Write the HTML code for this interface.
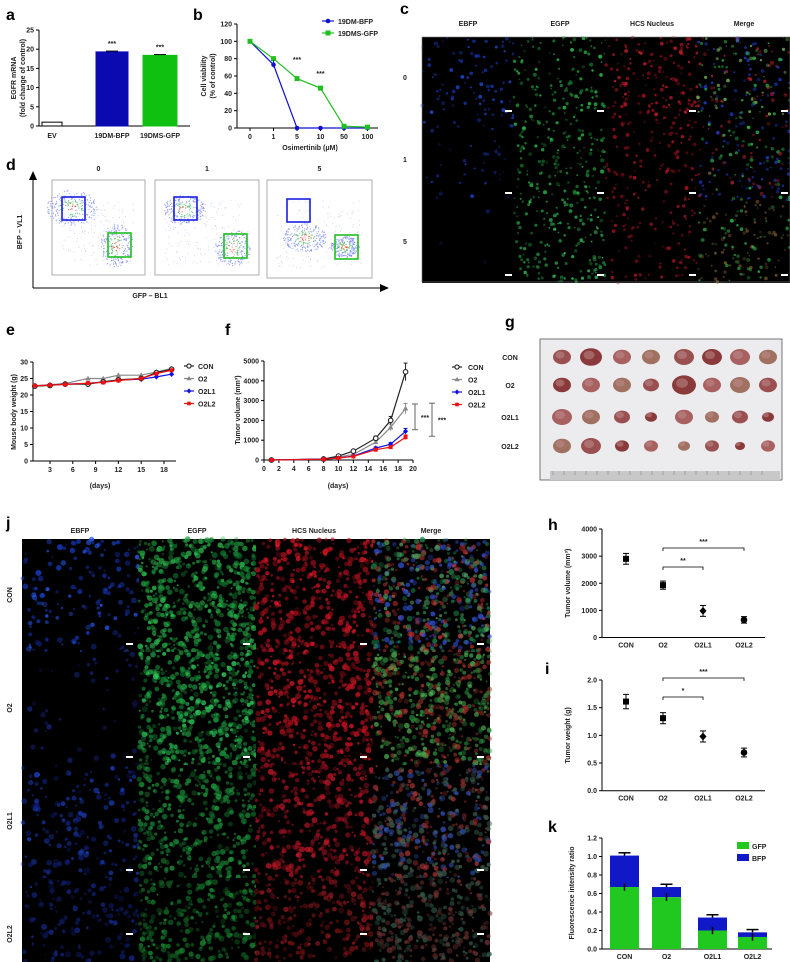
<!DOCTYPE html>
<html><head><meta charset="utf-8"><style>
body{margin:0;background:#fff}
svg{display:block;font-family:"Liberation Sans",Arial,sans-serif}
.t{font-size:7px;font-weight:bold;fill:#222}
.L{font-size:16px;font-weight:bold}
</style></head><body>
<svg id="s" width="790" height="962" viewBox="0 0 790 962" xmlns="http://www.w3.org/2000/svg">
<g id="root"></g>
</svg>
<script>
// ---------- data ----------
const aCats=["EV","19DM-BFP","19DMS-GFP"];
const aVals=[1,19.3,18.4];
const bX=["0","1","5","10","50","100"];
const bBFP=[100,73,0,0,0,0];
const bGFP=[100,80,57,46,2,1];
const eDays=[1,3,5,8,10,12,15,17,19];
const eCON=[22.7,22.9,23.3,23.3,24,24.6,25,26.8,27.8];
const eO2=[22.8,23.1,23.5,25,25,26,26,27,28];
const eL1=[22.7,23,23.3,23.5,24,24.5,24.8,25.5,26.3];
const eL2=[22.8,23,23.2,23.6,23.8,24.4,25,26.5,27.5];
const fDays=[1,8,10,12,15,17,19];
const fCON=[0,50,200,450,1100,2000,4450];
const fO2=[0,40,150,280,900,1650,2600];
const fL1=[0,40,100,200,600,800,1450];
const fL2=[0,40,100,180,520,650,1150];
const grpCats=["CON","O2","O2L1","O2L2"];
const hVals=[2900,1930,980,650];
const hErr=[200,150,200,120];
const iVals=[1.61,1.31,0.98,0.69];
const iErr=[0.13,0.1,0.1,0.08];
const kGFP=[0.67,0.56,0.2,0.13];
const kTot=[1.01,0.67,0.34,0.18];

const NS="http://www.w3.org/2000/svg";
const root=document.getElementById('root');
function el(tag,at,parent){const e=document.createElementNS(NS,tag);for(const k in at)e.setAttribute(k,at[k]);(parent||root).appendChild(e);return e;}
function txt(x,y,s,cls,extra){const e=el('text',Object.assign({x:x,y:y,class:cls||'t','text-anchor':'middle'},extra||{}));e.textContent=s;return e;}
function line(x1,y1,x2,y2,c,w){return el('line',{x1,y1,x2,y2,stroke:c||'#000','stroke-width':w||1});}
function lin(d0,d1,r0,r1){return v=>r0+(v-d0)*(r1-r0)/(d1-d0);}
function marker(kind,x,y,c,s){s=s||2;
 if(kind=='CON')return el('circle',{cx:x,cy:y,r:s+0.3,fill:'#fff',stroke:c,'stroke-width':1.1});
 if(kind=='O2')return el('polygon',{points:`${x},${y-s-0.8} ${x+s+0.8},${y+s} ${x-s-0.8},${y+s}`,fill:c});
 if(kind=='O2L1')return el('polygon',{points:`${x},${y-s-0.8} ${x+s+0.5},${y} ${x},${y+s+0.8} ${x-s-0.5},${y}`,fill:c});
 return el('rect',{x:x-s,y:y-s,width:2*s,height:2*s,fill:c});}

[["a",6,20],["b",193,20],["c",400,14],["d",6,170],["e",6,335],["f",225,335],["g",505,327],["j",6,528],["h",548,530],["i",545,674],["k",548,832]].forEach(p=>{
 const t=txt(p[1],p[2],p[0],'L',{'text-anchor':'start'});
 
 
});

// ---------- microscopy textures ----------
let seed=7;function rnd(){seed=(seed*16807)%2147483647;return seed/2147483647;}
function micro(x,y,w,h,colors,n,rmin,rmax,name,op){
 const g=el('g',{});
 
 
 el('rect',{x,y,width:w,height:h,fill:'#000'},g);
 for(let i=0;i<n;i++){
  const c=colors[Math.floor(rnd()*colors.length)];
  el('circle',{cx:(x+rnd()*w).toFixed(1),cy:(y+rnd()*h).toFixed(1),r:(rmin+rnd()*(rmax-rmin)).toFixed(1),fill:c,opacity:((op||0.35)+rnd()*0.5).toFixed(2)},g);
 }
 return g;
}
function scale(x,y){el('rect',{x:x,y:y,width:7,height:2,fill:'#fff'});}

["EBFP","EGFP","HCS Nucleus","Merge"].forEach((h,i)=>{const t=txt(468+i*92,26,h);});
const cRows=["0","1","5"];
const cSpec=[
 [[["#1a3cc8","#2050e0"],90],[["#1a9a3a","#30d050"],120],[["#b01020","#d02030"],150],[["#30d050","#2040d0","#c02030","#80c060"],170]],
 [[["#1a30a0","#2040d0"],40],[["#188a30","#30c050"],150],[["#a01020","#c01828"],110],[["#30c050","#2040d0","#a02030"],150]],
 [[["#102080"],3],[["#20a040","#40e070"],140],[["#901020","#b01828"],80],[["#30c050","#806030"],130]]];
cRows.forEach((r,ri)=>{
 const t=txt(405,80+ri*82,r);
 for(let ci=0;ci<4;ci++){const sp=cSpec[ri][ci];micro(422+ci*92,37+ri*82,92,82,sp[0],sp[1],0.8,2,'c-image-'+r+'-'+ci,0.3);scale(505+ci*92,110+ri*82);}
});
el('rect',{x:422,y:37,width:368,height:245,fill:'none',stroke:'#777','stroke-width':0.6});

["EBFP","EGFP","HCS Nucleus","Merge"].forEach((h,i)=>{const t=txt(80+i*117,533,h);});
const jSpec=[
 [[["#1840d0","#2a60ff","#102a90"],150],[["#20a040","#30c050","#108030"],550],[["#c01020","#e01828","#901018"],400],[["#1a8a4a","#c03030","#3050d0","#50a060"],550]],
 [[["#101860","#1a2a90"],40],[["#20a040","#30d060","#108030"],550],[["#c01020","#e01828","#901018"],400],[["#2a8a3a","#a03028","#50b050"],550]],
 [[["#102080","#1a40c0"],170],[["#157a30","#20a040"],380],[["#a01020","#c01828"],350],[["#406050","#a03030","#3050b0"],450]],
 [[["#0c1860","#142a90"],130],[["#105a20","#188a30"],280],[["#701010","#901820"],250],[["#305848","#703030"],320]]];
grpCats.forEach((r,ri)=>{
 const y=539+ri*113;
 const t=txt(12,y+56,r,'t',{transform:`rotate(-90 12 ${y+56})`});
 for(let ci=0;ci<4;ci++){const sp=jSpec[ri][ci];micro(22+ci*117,y,117,ri==3?(962-y):113,sp[0],sp[1],1,3,'j-image-'+r+'-'+ci,0.3);if(ri<3)scale(126+ci*117,y+104);else scale(126+ci*117,y+55);}
});

// ---------- panel a ----------
(function(){
 const y=lin(0,25,126,30);const x0=39;
 line(x0,30,x0,126);line(x0,126,190,126);
 [0,5,10,15,20,25].forEach(v=>{line(x0-3,y(v),x0,y(v));txt(x0-5,y(v)+2.5,String(v),'t',{'text-anchor':'end'});});
 const bx=[42,96,143],bw=[20,32,34],col=["#fff","#0a0ab0","#10c010"];
 aCats.forEach((c,i)=>{
  const r=el('rect',{x:bx[i],y:y(aVals[i]),width:bw[i],height:126-y(aVals[i]),fill:col[i],stroke:i?col[i]:'#000','stroke-width':1});
  
  txt(bx[i]+bw[i]/2,138,c);
  if(i){line(bx[i]+bw[i]/2-6,y(aVals[i]+0.2),bx[i]+bw[i]/2+6,y(aVals[i]+0.2));txt(bx[i]+bw[i]/2,y(aVals[i])-6,"***");}
 });
 const t=txt(16,78,"EGFR mRNA",'t',{transform:'rotate(-90 16 78)','font-size':'8'});
 txt(25,78,"(fold change of control)",'t',{transform:'rotate(-90 25 78)','font-size':'8'});
 
})();

// ---------- panel b ----------
(function(){
 const y=lin(0,120,128,24);const xi=i=>250+i*23.5;
 line(237,24,237,128);line(237,128,378,128);
 [0,20,40,60,80,100,120].forEach(v=>{line(234,y(v),237,y(v));txt(232,y(v)+2.5,String(v),'t',{'text-anchor':'end'});});
 bX.forEach((c,i)=>{line(xi(i),128,xi(i),131);txt(xi(i),139,c);});
 txt(310,150,"Osimertinib (μM)");
 txt(206,76,"Cell viability",'t',{transform:'rotate(-90 206 76)','font-size':'8'});
 txt(215,76,"(% of control)",'t',{transform:'rotate(-90 215 76)','font-size':'8'});
 [[bBFP,"#1010d0","19DM-BFP",'c'],[bGFP,"#20c020","19DMS-GFP",'s']].forEach((s,si)=>{
  const pl=el('polyline',{points:s[0].map((v,i)=>xi(i)+','+y(v)).join(' '),fill:'none',stroke:s[1],'stroke-width':1.2});
  
  s[0].forEach((v,i)=>{if(s[3]=='c')el('circle',{cx:xi(i),cy:y(v),r:2.3,fill:s[1]});else el('rect',{x:xi(i)-2.5,y:y(v)-2.5,width:5,height:5,fill:s[1]});});
  line(322,21+si*12,334,21+si*12,s[1],1.2);
  if(s[3]=='c')el('circle',{cx:328,cy:21,r:2.3,fill:s[1]});else el('rect',{x:325.5,y:30.5,width:5,height:5,fill:s[1]});
  const lt=txt(338,24+si*12,s[2],'t',{'text-anchor':'start','font-weight':'normal'});
  
 });
 line(xi(1),y(70),xi(1),y(78),"#1010d0");
 txt(xi(2),62,"***");txt(xi(3),76,"***");
})();

// ---------- panel d ----------
(function(){
 line(33,288,33,178);el('polygon',{points:"29,180 37,180 33,171",fill:'#000'});
 line(33,288,382,288);el('polygon',{points:"380,284 380,292 389,288",fill:'#000'});
 txt(22,232,"BFP – VL1",'t',{transform:'rotate(-90 22 232)','font-size':'8'});
 txt(150,298,"GFP – BL1",'t',{'font-size':'8'});
 const P=[[52,180,93,95,"0",[[62,197],[108,233]],[[72,208,14,10],[117,246,9,12]]],[155,180,104,95,"1",[[174,197],[224,234]],[[184,210,12,8],[233,248,10,10]]],[267,180,105,98,"5",[[287,199],[335,235]],[[305,238,12,8],[345,247,8,6]]]];
 P.forEach((p,pi)=>{
  const g=el('g',{});
  el('rect',{x:p[0],y:p[1],width:p[2],height:p[3],fill:'#fff',stroke:'#999','stroke-width':0.8},g);
  txt(p[0]+p[2]/2,171,p[4],'t',{'font-size':'8'});
  p[6].forEach(c=>{for(let i=0;i<220;i++){const a=rnd()*6.28,r=Math.sqrt(rnd());el('circle',{cx:c[0]+Math.cos(a)*r*c[2]*1.8,cy:c[1]+Math.sin(a)*r*c[3]*1.8,r:0.6,fill:r<0.25?'#e04020':(r<0.5?'#30b050':'#7080f0'),opacity:0.7},g);}});
  for(let i=0;i<150;i++)el('circle',{cx:p[0]+10+rnd()*(p[2]-20),cy:p[1]+20+rnd()*(p[3]-30),r:0.5,fill:'#8090f0',opacity:0.5},g);
  el('rect',{x:p[5][0][0],y:p[5][0][1],width:23,height:23,fill:'none',stroke:'#1a20e0','stroke-width':1.6},g);
  el('rect',{x:p[5][1][0],y:p[5][1][1],width:23,height:24,fill:'none',stroke:'#20c020','stroke-width':1.6},g);
 });
})();

// ---------- panel e ----------
(function(){
 const y=lin(0,30,461,362),x=lin(3,18,50,164);
 line(33,362,33,461);line(33,461,176,461);
 [0,5,10,15,20,25,30].forEach(v=>{line(30,y(v),33,y(v));txt(28,y(v)+2.5,String(v),'t',{'text-anchor':'end'});});
 [3,6,9,12,15,18].forEach(v=>{line(x(v),461,x(v),464);txt(x(v),472,String(v));});
 txt(100,488,"(days)",'t',{'font-size':'8'});
 txt(16,412,"Mouse body weight (g)",'t',{transform:'rotate(-90 16 412)','font-size':'8'});
 const S=[[eO2,"#888","O2"],[eL1,"#1010e0","O2L1"],[eCON,"#222","CON"],[eL2,"#f01010","O2L2"]];
 S.forEach(s=>{
  const pl=el('polyline',{points:eDays.map((d,i)=>x(d)+','+y(s[0][i])).join(' '),fill:'none',stroke:s[1],'stroke-width':1.2});
  
  eDays.forEach((d,i)=>{line(x(d),y(s[0][i]+0.5),x(d),y(s[0][i]-0.5),s[1]);marker(s[2],x(d),y(s[0][i]),s[1],2);});
 });
 [["CON","#222"],["O2","#888"],["O2L1","#1010e0"],["O2L2","#f01010"]].forEach((l,i)=>{line(184,366+i*12.5,194,366+i*12.5,l[1],1.2);marker(l[0],189,366+i*12.5,l[1],1.8);const t=txt(198,369+i*12.5,l[0],'t',{'text-anchor':'start','font-weight':'normal'});});
})();

// ---------- panel f ----------
(function(){
 const y=lin(0,5000,460,361),x=lin(0,20,264,413);
 line(264,361,264,460);line(264,460,413,460);
 [0,1000,2000,3000,4000,5000].forEach(v=>{line(261,y(v),264,y(v));txt(259,y(v)+2.5,String(v),'t',{'text-anchor':'end'});});
 for(let d=0;d<=20;d+=2){line(x(d),460,x(d),463);txt(x(d),471,String(d));}
 txt(338,488,"(days)",'t',{'font-size':'8'});
 txt(240,410,"Tumor volume (mm³)",'t',{transform:'rotate(-90 240 410)','font-size':'8'});
 const S=[[fO2,"#888","O2"],[fCON,"#222","CON"],[fL1,"#1010e0","O2L1"],[fL2,"#f01010","O2L2"]];
 S.forEach(s=>{
  const pl=el('polyline',{points:fDays.map((d,i)=>x(d)+','+y(s[0][i])).join(' '),fill:'none',stroke:s[1],'stroke-width':1.2});
  
  fDays.forEach((d,i)=>{const e=s[0][i]*0.1;line(x(d),y(s[0][i]+e),x(d),y(s[0][i]-e),s[1]);line(x(d)-2,y(s[0][i]+e),x(d)+2,y(s[0][i]+e),s[1]);marker(s[2],x(d),y(s[0][i]),s[1],2);});
 });
 [[415,y(2830),y(1530),"***",425],[432,y(2870),y(1200),"***",442]].forEach(b=>{line(b[0],b[1],b[0],b[2],'#666');line(b[0]-3,b[1],b[0]+3,b[1],'#666');line(b[0]-3,b[2],b[0]+3,b[2],'#666');txt(b[4],(b[1]+b[2])/2+3,b[3],'t',{'font-weight':'normal','font-size':'6'});});
 [["CON","#222"],["O2","#888"],["O2L1","#1010e0"],["O2L2","#f01010"]].forEach((l,i)=>{line(452,367+i*12.5,462,367+i*12.5,l[1],1.2);marker(l[0],457,367+i*12.5,l[1],1.8);const t=txt(468,370+i*12.5,l[0],'t',{'text-anchor':'start','font-weight':'normal'});});
})();

// ---------- panel g ----------
(function(){
 const g=el('g',{});
 el('rect',{x:540,y:339,width:242,height:141,fill:'#ecebee',stroke:'#555','stroke-width':0.8},g);
 el('rect',{x:550,y:471,width:230,height:9,fill:'#c8c8c8'},g);
 for(let k=0;k<20;k++)el('line',{x1:553+k*11,y1:471,x2:553+k*11,y2:475,stroke:'#777','stroke-width':0.5},g);
 const cols=[562,591,622,651,684,712,740,768];
 const sizes=[[9,11,9,9,10,10,10,9],[9,9,9,8,12,9,10,9],[10,9,8,6,9,7,8,6],[9,10,7,7,6,7,5,7]];
 const rows=[357,385,417,446];
 const tc=['#9a5050','#8a3a3a','#a86060','#a07060'];
 grpCats.forEach((c,ri)=>{
  const t=txt(510,rows[ri]+3,c,'t',{'text-anchor':'middle','font-size':'7.5'});
  cols.forEach((cx,ci)=>{const s=sizes[ri][ci];el('ellipse',{cx:cx,cy:rows[ri],rx:s,ry:s*0.8,fill:tc[(ci+ri)%4]},g);el('ellipse',{cx:cx-2,cy:rows[ri]-2,rx:s*0.5,ry:s*0.4,fill:'#c09090',opacity:0.5},g);});
 });
})();

// ---------- panels h,i ----------
function dotPanel(vals,errs,y,ticks,fmt,axTop,axBot,title,tY,brk,pref){
 line(602,axTop,602,axBot);line(602,axBot,765,axBot);
 ticks.forEach(v=>{line(599,y(v),602,y(v));txt(597,y(v)+2.5,fmt(v),'t',{'text-anchor':'end'});});
 const xs=[626,663,703,744];
 grpCats.forEach((c,i)=>{txt(xs[i],axBot+10,c,'t',{'font-size':'7.5'});
  line(xs[i],y(vals[i]+errs[i]),xs[i],y(vals[i]-errs[i]));line(xs[i]-3,y(vals[i]+errs[i]),xs[i]+3,y(vals[i]+errs[i]));line(xs[i]-3,y(vals[i]-errs[i]),xs[i]+3,y(vals[i]-errs[i]));
  const m=i==3?el('circle',{cx:xs[i],cy:y(vals[i]),r:3.3,fill:'#000'}):(i==2?el('polygon',{points:`${xs[i]},${y(vals[i])-4} ${xs[i]+3.5},${y(vals[i])} ${xs[i]},${y(vals[i])+4} ${xs[i]-3.5},${y(vals[i])}`,fill:'#000'}):el('rect',{x:xs[i]-3,y:y(vals[i])-3,width:6,height:6,fill:'#000'}));
  
 });
 txt(tY,(axTop+axBot)/2,title,'t',{transform:`rotate(-90 ${tY} ${(axTop+axBot)/2})`,'font-size':'8'});
 brk.forEach(b=>{const x1=663,x2=b[0],yy=b[1];el('polyline',{points:`${x1},${yy+3} ${x1},${yy} ${x2},${yy} ${x2},${yy+3}`,fill:'none',stroke:'#000','stroke-width':0.8});txt((x1+x2)/2,yy-4,b[2],'t',{'font-weight':'normal','font-size':'6'});});
}
dotPanel(hVals,hErr,lin(0,4000,637.5,529),[0,1000,2000,3000,4000],String,529,637.5,"Tumor volume (mm³)",570,[[744,548,"***"],[703,567,"**"]],'h');
dotPanel(iVals,iErr,lin(0,2,790.7,680),[0,0.5,1,1.5,2],v=>v.toFixed(1),680,790.7,"Tumor weight (g)",570,[[744,678,"***"],[703,697,"*"]],'i');

// ---------- panel k ----------
(function(){
 const y=lin(0,1.2,949,838);
 line(602,838,602,949);line(602,949,772,949);
 [0,0.2,0.4,0.6,0.8,1,1.2].forEach(v=>{line(599,y(v),602,y(v));txt(597,y(v)+2.5,v.toFixed(1),'t',{'text-anchor':'end'});});
 const xs=[610,652,698,738],w=29;
 grpCats.forEach((c,i)=>{
  const b=el('rect',{x:xs[i],y:y(kTot[i]),width:w,height:y(kGFP[i])-y(kTot[i]),fill:'#1018c8'});
  const g=el('rect',{x:xs[i],y:y(kGFP[i]),width:w,height:949-y(kGFP[i]),fill:'#20c820'});
  const cx=xs[i]+w/2;line(cx,y(kTot[i]),cx,y(kTot[i]+0.03),'#000',1.5);line(cx-6,y(kTot[i]+0.03),cx+6,y(kTot[i]+0.03),'#000',1.5);
  line(cx,y(kGFP[i]-0.04),cx,y(kGFP[i]+0.04),'#000',1.5);
  txt(cx,959,c,'t',{'font-size':'7.5'});
 });
 txt(574,893,"Fluorescence intensity ratio",'t',{transform:'rotate(-90 574 893)','font-size':'8'});
 el('rect',{x:737,y:842,width:12,height:7,fill:'#20c820'});el('rect',{x:737,y:854,width:12,height:7,fill:'#1018c8'});
 const l1=txt(752,849,"GFP",'t',{'text-anchor':'start','font-weight':'normal','font-size':'8'});
 const l2=txt(752,861,"BFP",'t',{'text-anchor':'start','font-weight':'normal','font-size':'8'});
})();
</script>
</body></html>
